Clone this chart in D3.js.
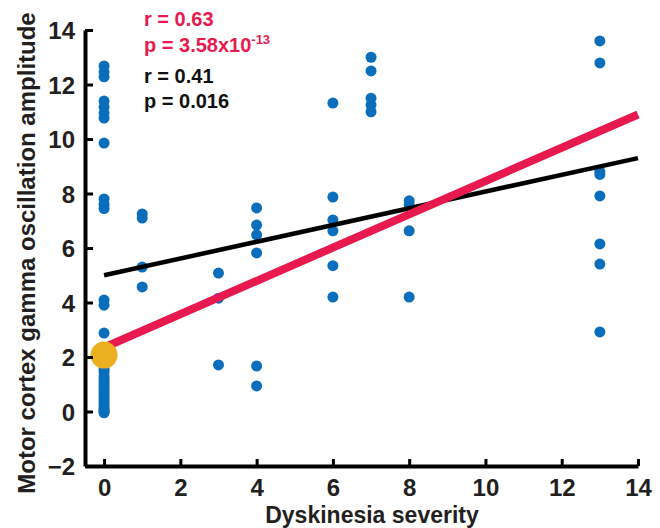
<!DOCTYPE html>
<html><head><meta charset="utf-8">
<script src="https://cdn.jsdelivr.net/npm/d3@7"></script>
<style>
body{margin:0;background:#fff;}
svg{display:block;}
text{font-family:Arial,"Liberation Sans",sans-serif;font-weight:bold;}
</style></head>
<body><svg id="c" width="660" height="528"></svg>
<script>
// Data
const severityLevels = [0, 1, 3, 4, 6, 7, 8, 13];
const ampSev0 = [12.68, 12.46, 12.28, 11.39, 11.17, 10.95, 10.77, 9.85, 7.8, 7.6, 7.45, 4.09, 3.9, 2.88,
  1.9, 1.8, 1.7, 1.55, 1.45, 1.3, 1.2, 1.1, 1.0, 0.9, 0.8, 0.7, 0.6, 0.5, 0.4, 0.3, 0.2, 0.1, 0.05, 0.0, -0.05];
const ampSev1 = [7.25, 7.1, 5.3, 4.57];
const ampSev3 = [5.08, 4.16, 1.71];
const ampSev4 = [7.47, 6.84, 6.48, 5.82, 1.67, 0.94];
const ampSev6 = [11.32, 7.87, 7.03, 6.63, 5.35, 4.2];
const ampSev7 = [13.0, 12.5, 11.5, 11.25, 11.0];
const ampSev8 = [7.73, 7.58, 6.63, 4.2];
const ampSev13 = [13.6, 12.79, 8.8, 8.7, 7.91, 6.15, 5.41, 2.92];
const ampBySeverity = [ampSev0, ampSev1, ampSev3, ampSev4, ampSev6, ampSev7, ampSev8, ampSev13];
const meanPointX = [0];
const meanPointY = [2.07];
const fitX = [0, 14];
const fitRedY = [2.35, 10.9];
const fitBlackY = [5.0, 9.3];
const xTicks = [0, 2, 4, 6, 8, 10, 12, 14];
const yTicks = [-2, 0, 2, 4, 6, 8, 10, 12, 14];
const statsRed = ["r = 0.63", "p = 3.58x10", "-13"];
const statsBlack = ["r = 0.41", "p = 0.016"];
const xTitle = "Dyskinesia severity";
const yTitle = "Motor cortex gamma oscillation amplitude";

const points = [];
severityLevels.forEach((s, i) => ampBySeverity[i].forEach(v => points.push({x: s, y: v})));

const svg = d3.select("#c");
const x = d3.scaleLinear().domain([-0.5, 14]).range([85, 638]);
const y = d3.scaleLinear().domain([-2, 14]).range([466, 30]);

const BLUE = "#0a6ebd", RED = "#e8194f", YELLOW = "#ebb020", INK = "#231f20";

// points
svg.append("g").selectAll("circle").data(points).join("circle")
  .attr("cx", d => x(d.x)).attr("cy", d => y(d.y)).attr("r", 5.5).attr("fill", BLUE);

// fit lines
const line = d3.line().x(d => x(d[0])).y(d => y(d[1]));
svg.append("path").attr("d", line(fitX.map((v, i) => [v, fitBlackY[i]])))
  .attr("stroke", "#000").attr("stroke-width", 4.5).attr("fill", "none");
svg.append("path").attr("d", line(fitX.map((v, i) => [v, fitRedY[i]])))
  .attr("stroke", RED).attr("stroke-width", 8).attr("fill", "none");

// mean marker
svg.append("g").selectAll("circle").data(meanPointX.map((v, i) => [v, meanPointY[i]])).join("circle")
  .attr("cx", d => x(d[0])).attr("cy", d => y(d[1])).attr("r", 13.5).attr("fill", YELLOW);

// axes
const yAxis = svg.append("g").attr("transform", "translate(85,0)")
  .call(d3.axisLeft(y).tickValues(yTicks).tickSize(-8).tickSizeOuter(0).tickPadding(10));
const xAxis = svg.append("g").attr("transform", "translate(0,466)")
  .call(d3.axisBottom(x).tickValues(xTicks).tickSize(-7).tickSizeOuter(0).tickPadding(13));
[yAxis, xAxis].forEach(g => {
  g.select(".domain").attr("stroke", "#000").attr("stroke-width", 4);
  g.selectAll(".tick line").attr("stroke", "#000").attr("stroke-width", 3);
  g.selectAll(".tick text").attr("fill", INK).style("font-size", "24px");
});
yAxis.selectAll(".tick text").attr("dy", "0.36em");

// titles
svg.append("text").attr("x", 372).attr("y", 523).attr("text-anchor", "middle")
  .attr("fill", INK).style("font-size", "23px").text(xTitle);
svg.append("text").attr("transform", "translate(35,253) rotate(-90)").attr("text-anchor", "middle")
  .attr("fill", INK).style("font-size", "24px").text(yTitle);

// stats annotations
svg.append("text").attr("x", 144).attr("y", 26).attr("fill", RED).style("font-size", "20px").text(statsRed[0]);
const pt = svg.append("text").attr("x", 144).attr("y", 52).attr("fill", RED).style("font-size", "20px");
pt.append("tspan").text(statsRed[1]);
pt.append("tspan").attr("dy", -8).style("font-size", "13px").text(statsRed[2]);
svg.append("text").attr("x", 144).attr("y", 83).attr("fill", "#111").style("font-size", "20px").text(statsBlack[0]);
svg.append("text").attr("x", 144).attr("y", 108).attr("fill", "#111").style("font-size", "20px").text(statsBlack[1]);
</script></body></html>
